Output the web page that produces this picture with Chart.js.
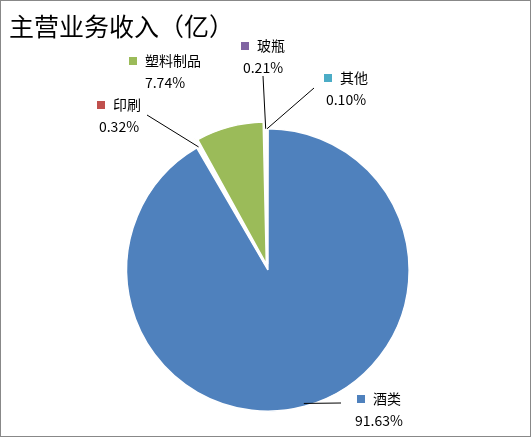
<!DOCTYPE html>
<html>
<head>
<meta charset="UTF-8">
<script src="https://cdn.jsdelivr.net/npm/chart.js@4"></script>
<style>
  html, body { margin: 0; padding: 0; background: #fff; }
  #wrap { position: absolute; left: 0; top: 0; width: 529px; height: 435px; border: 1px solid #888; }
  #title { position: absolute; left: 8px; top: 6px; font: 25px "Noto Sans CJK SC"; color: #000; }
</style>
</head>
<body>
<div id="wrap">
  <canvas id="pie" width="529" height="435"></canvas>
  <div id="title">主营业务收入（亿）</div>
</div>
<script>
var categories = ["酒类", "印刷", "塑料制品", "玻瓶", "其他"];
var values = [91.63, 0.32, 7.74, 0.21, 0.10];
var valueLabels = ["91.63%", "0.32%", "7.74%", "0.21%", "0.10%"];
var colors = ["#4F81BD", "#C0504D", "#9BBB59", "#8064A2", "#4BACC6"];
// label anchors (text centre)
var labelPos = [[378, 398], [118, 104], [164, 60], [262, 45], [345, 77]];

var labelPlugin = {
  id: "pieLabels",
  afterDraw: function (chart) {
    var ctx = chart.ctx;
    var arcs = chart.getDatasetMeta(0).data;
    ctx.save();
    ctx.font = '14px "Noto Sans CJK SC"';
    ctx.textBaseline = "middle";
    arcs.forEach(function (arc, i) {
      var p = labelPos[i];
      var mid = (arc.startAngle + arc.endAngle) / 2;
      var ex = arc.x + Math.cos(mid) * arc.outerRadius;
      var ey = arc.y + Math.sin(mid) * arc.outerRadius;
      if (i !== 2) {
        ctx.strokeStyle = "#000";
        ctx.lineWidth = 1;
        ctx.beginPath();
        ctx.moveTo(ex, ey);
        var lx = i === 0 ? p[0] - 38 : (i === 1 ? p[0] + 28 : (i === 3 ? p[0] : p[0] - 32));
        var ly = i === 0 ? p[1] + 4 : (i === 1 ? p[1] + 10 : (i === 3 ? p[1] + 30 : p[1] + 10));
        ctx.lineTo(lx, ly);
        ctx.stroke();
      }
      var nameW = ctx.measureText(categories[i]).width;
      var total = nameW + 16;
      var x0 = p[0] - total / 2;
      ctx.fillStyle = colors[i];
      ctx.fillRect(x0, p[1] - 4, 8, 8);
      ctx.fillStyle = "#000";
      ctx.textAlign = "left";
      ctx.fillText(categories[i], x0 + 16, p[1]);
      ctx.textAlign = "center";
      ctx.fillText(valueLabels[i], p[0], p[1] + 22);
    });
    ctx.restore();
  }
};

new Chart(document.getElementById("pie"), {
  type: "pie",
  data: {
    labels: categories,
    datasets: [{
      data: values,
      backgroundColor: colors,
      borderColor: "#fff",
      borderWidth: 1.5,
      offset: [6, 18, 18, 18, 18]
    }]
  },
  options: {
    responsive: false,
    animation: false,
    layout: { padding: { top: 118, bottom: 18, left: 4, right: 0 } },
    plugins: { legend: { display: false }, tooltip: { enabled: false } }
  },
  plugins: [labelPlugin]
});
</script>
</body>
</html>
